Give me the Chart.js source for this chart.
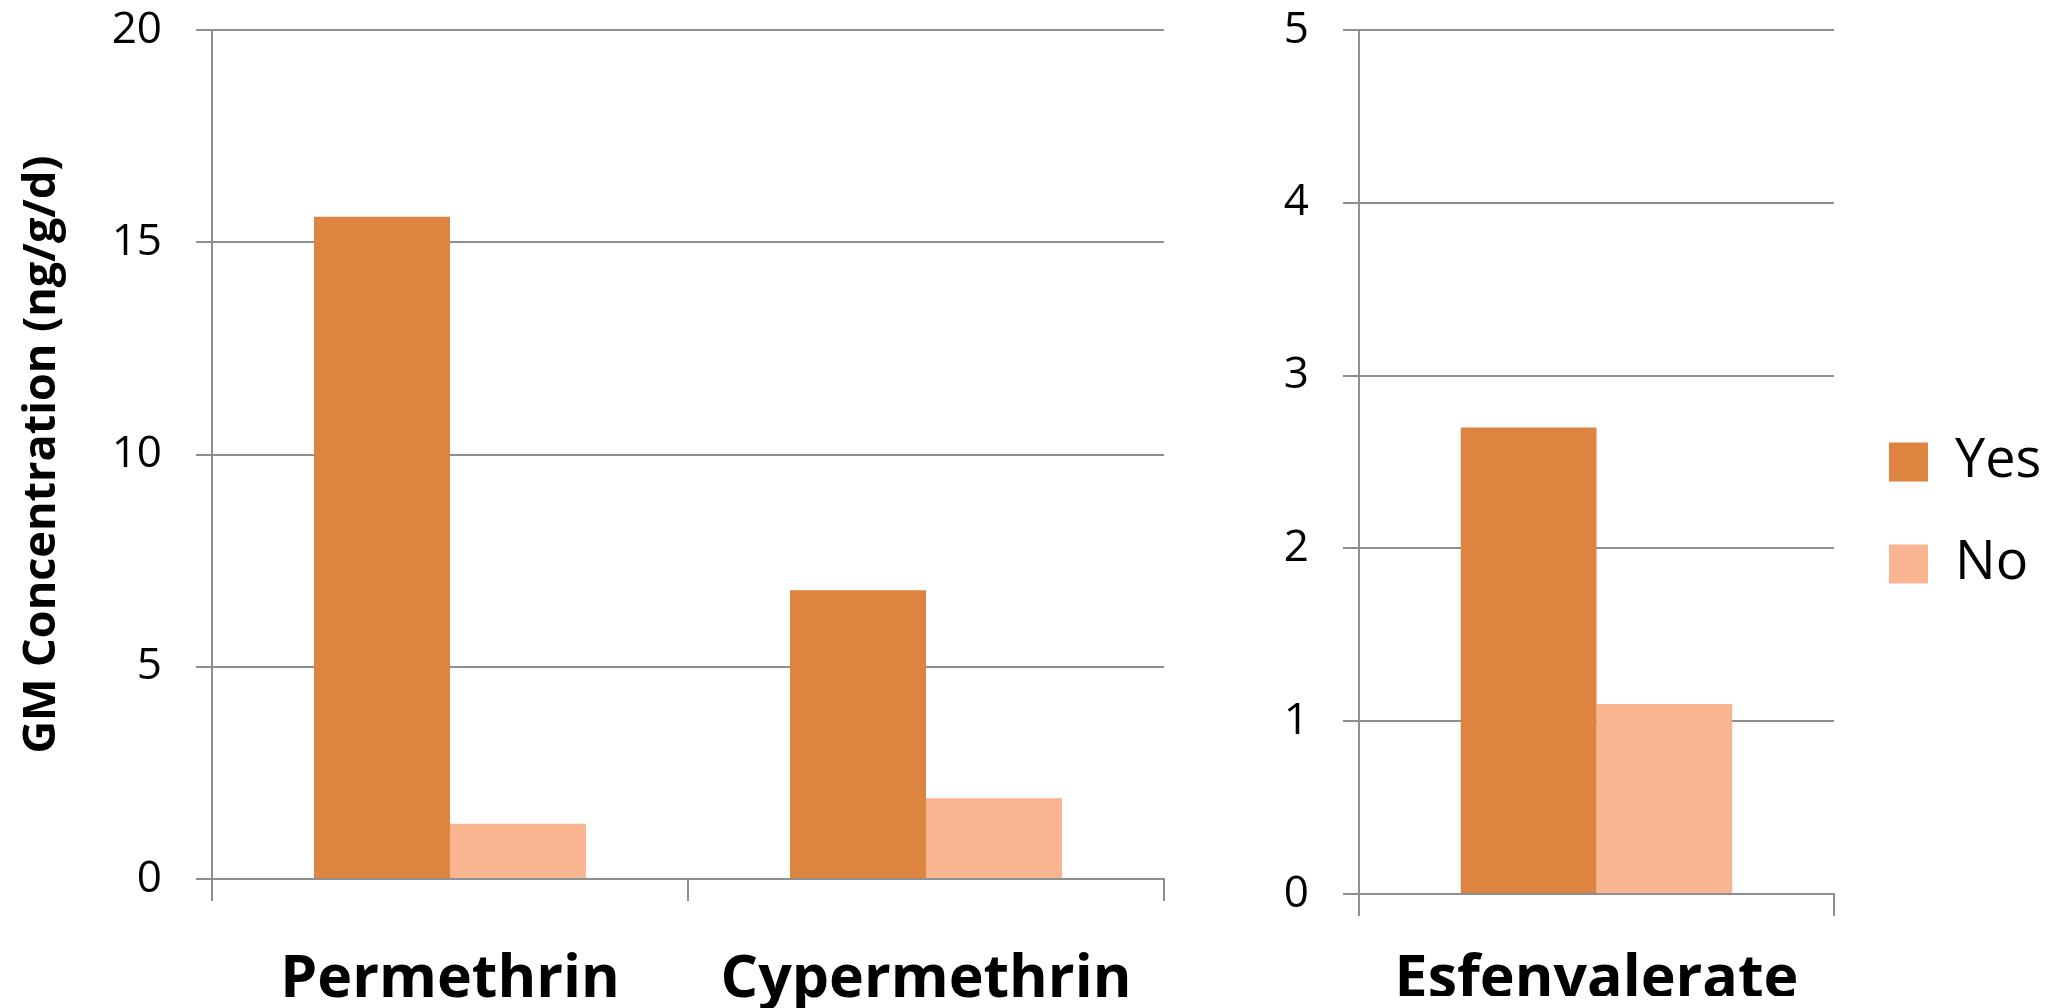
<!DOCTYPE html>
<html>
<head>
<meta charset="utf-8">
<script src="https://cdn.jsdelivr.net/npm/chart.js@4.4.1/dist/chart.umd.min.js"></script>
<style>
  html, body { margin: 0; padding: 0; background: #ffffff; }
  #wrap { position: relative; width: 2067px; height: 1008px; overflow: hidden; background: #fff; }
  #c1 { position: absolute; left: 0; top: 0; }
  #c2 { position: absolute; left: 1180px; top: 0; }
</style>
</head>
<body>
<div id="wrap">
  <canvas id="c1" width="1180" height="1008"></canvas>
  <canvas id="c2" width="887" height="1008"></canvas>
</div>
<script>
// ---- data ----
const leftCategories = ['Permethrin', 'Cypermethrin'];
const leftYes = [15.6, 6.8];
const leftNo = [1.3, 1.9];
const leftTicks = [0, 5, 10, 15, 20];

const rightCategories = ['Esfenvalerate'];
const rightYes = [2.7];
const rightNo = [1.1];
const rightTicks = [0, 1, 2, 3, 4, 5];

const seriesNames = ['Yes', 'No'];
const yTitle = 'GM Concentration (ng/g/d)';

// ---- styles ----
const YES_COLOR = '#DC8440';
const NO_COLOR = '#F8B590';
const GRID = '#8f8f8f';
const FONT = "'Open Sans', 'Noto Sans', sans-serif";

Chart.defaults.font.family = FONT;
Chart.defaults.color = '#000';

function xScale(padding, axisHeight) {
  return {
    type: 'category',
    offset: true,
    grid: { display: true, drawOnChartArea: false, drawTicks: true, tickLength: 22, color: GRID, lineWidth: 2, offset: true },
    border: { display: true, color: GRID, width: 2 },
    ticks: { color: '#000', font: { family: FONT, size: 59, weight: 'bold' }, padding: padding, maxRotation: 0, autoSkip: false },
    afterFit: s => { s.height = axisHeight; s.paddingLeft = 0; s.paddingRight = 0; }
  };
}
function yScale(ticks, axisWidth, title) {
  const cfg = {
    type: 'linear',
    min: ticks[0],
    max: ticks[ticks.length - 1],
    afterBuildTicks: s => { s.ticks = ticks.map(v => ({ value: v })); },
    grid: { display: true, drawOnChartArea: true, drawTicks: true, tickLength: 16, color: GRID, lineWidth: 2 },
    border: { display: true, color: GRID, width: 2 },
    ticks: { color: '#000', font: { family: FONT, size: 44 }, padding: 34 },
    afterFit: s => { s.width = axisWidth; s.paddingTop = 0; s.paddingBottom = 0; }
  };
  if (title) {
    cfg.title = { display: true, text: title, color: '#000', font: { family: FONT, size: 45, weight: 'bold' }, padding: { top: 15, bottom: 0 } };
  }
  return cfg;
}

new Chart(document.getElementById('c1'), {
  type: 'bar',
  data: {
    labels: leftCategories,
    datasets: [
      { label: seriesNames[0], data: leftYes, backgroundColor: YES_COLOR, borderWidth: 0 },
      { label: seriesNames[1], data: leftNo, backgroundColor: NO_COLOR, borderWidth: 0 }
    ]
  },
  options: {
    responsive: false,
    animation: false,
    devicePixelRatio: 1,
    categoryPercentage: 0.5714,
    barPercentage: 1.0,
    layout: { padding: { left: 0, top: 30, right: 16, bottom: 0 } },
    plugins: { legend: { display: false }, tooltip: { enabled: false } },
    scales: {
      x: xScale(44, 129),
      y: yScale(leftTicks, 212, yTitle)
    }
  }
});

new Chart(document.getElementById('c2'), {
  type: 'bar',
  data: {
    labels: rightCategories,
    datasets: [
      { label: seriesNames[0], data: rightYes, backgroundColor: YES_COLOR, borderWidth: 0 },
      { label: seriesNames[1], data: rightNo, backgroundColor: NO_COLOR, borderWidth: 0 }
    ]
  },
  options: {
    responsive: false,
    animation: false,
    devicePixelRatio: 1,
    categoryPercentage: 0.5714,
    barPercentage: 1.0,
    layout: { padding: { left: 0, top: 30, right: 26, bottom: 12 } },
    plugins: {
      tooltip: { enabled: false },
      legend: {
        display: true,
        position: 'right',
        maxWidth: 200,
        labels: { boxWidth: 39, boxHeight: 39, padding: 48, color: '#000', font: { family: FONT, size: 54 } }
      }
    },
    scales: {
      x: xScale(29, 102),
      y: yScale(rightTicks, 179, null),
      gap: {
        type: 'linear', position: 'right', min: 0, max: 1, display: true,
        grid: { display: false }, border: { display: false }, ticks: { display: false },
        afterFit: s => { s.width = 7; s.paddingTop = 0; s.paddingBottom = 0; }
      }
    }
  }
});
</script>
</body>
</html>
